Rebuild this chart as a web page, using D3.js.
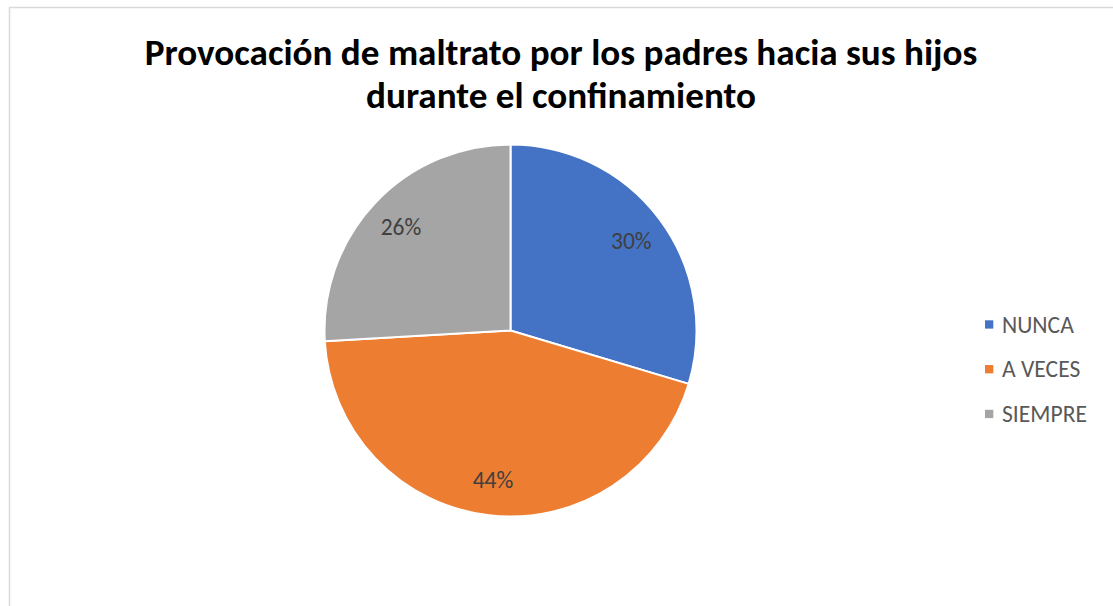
<!DOCTYPE html>
<html><head><meta charset="utf-8">
<script src="https://cdn.jsdelivr.net/npm/d3@7"></script>
<style>body{margin:0;background:#fff}svg{display:block}</style>
</head><body>
<svg id="c" width="1113" height="606"></svg>
<script>
const categories = ["NUNCA", "A VECES", "SIEMPRE"];
const values = [8, 12, 7];
const colors = ["#4472C4", "#ED7D31", "#A5A5A5"];
const titleLines = ["Provocación de maltrato por los padres hacia sus hijos", "durante el confinamiento"];

const svg = d3.select("#c");
svg.append("rect").attr("x", 9.5).attr("y", 7.5).attr("width", 1120).attr("height", 620)
  .attr("fill", "#fff").attr("stroke", "#d9d9d9").attr("stroke-width", 1.5);

const font = "Carlito, Calibri, 'Open Sans', 'Liberation Sans', sans-serif";
const title = svg.append("g");
const tl = title.selectAll("text").data(titleLines).join("text")
  .attr("x", 561).attr("y", (d, i) => 65 + i * 43)
  .attr("text-anchor", "middle").attr("font-family", font).attr("font-weight", "bold")
  .attr("font-size", 30).attr("fill", "#000").text(d => d);
const w0 = tl.nodes()[0].getComputedTextLength();
tl.attr("font-size", 30 * 833 / w0);

const cx = 510.5, cy = 330.5, R = 186;
const pie = d3.pie().sort(null).value(d => d)(values);
const arc = d3.arc().innerRadius(0).outerRadius(R);
const labelArc = d3.arc().innerRadius(R * 0.81).outerRadius(R * 0.81);
const g = svg.append("g").attr("transform", `translate(${cx},${cy})`);
g.selectAll("path").data(pie).join("path")
  .attr("d", arc).attr("fill", (d, i) => colors[i])
  .attr("stroke", "#fff").attr("stroke-width", 2);
const total = d3.sum(values);
const lbl = g.selectAll("text").data(pie).join("text")
  .attr("transform", d => `translate(${labelArc.centroid(d)})`)
  .attr("text-anchor", "middle").attr("dominant-baseline", "central")
  .attr("font-family", font).attr("font-size", 20).attr("fill", "#404040")
  .text(d => Math.round(d.data / total * 100) + "%");
const lw = lbl.nodes()[0].getComputedTextLength();
lbl.attr("font-size", 20 * 40.6 / lw);

const y = d3.scalePoint().domain(categories).range([324.5, 414]);
const lg = svg.append("g");
const items = lg.selectAll("g").data(categories).join("g")
  .attr("transform", d => `translate(985,${y(d)})`);
items.append("rect").attr("x", 0).attr("y", -4.2).attr("width", 8.3).attr("height", 8.3)
  .attr("fill", (d, i) => colors[i]);
const lt = items.append("text").attr("x", 17).attr("y", 0).attr("dominant-baseline", "central")
  .attr("font-family", font).attr("font-size", 20).attr("fill", "#595959").text(d => d);
const sw = lt.nodes()[2].getComputedTextLength();
lt.attr("font-size", 20 * 85 / sw);
</script>
</body></html>
